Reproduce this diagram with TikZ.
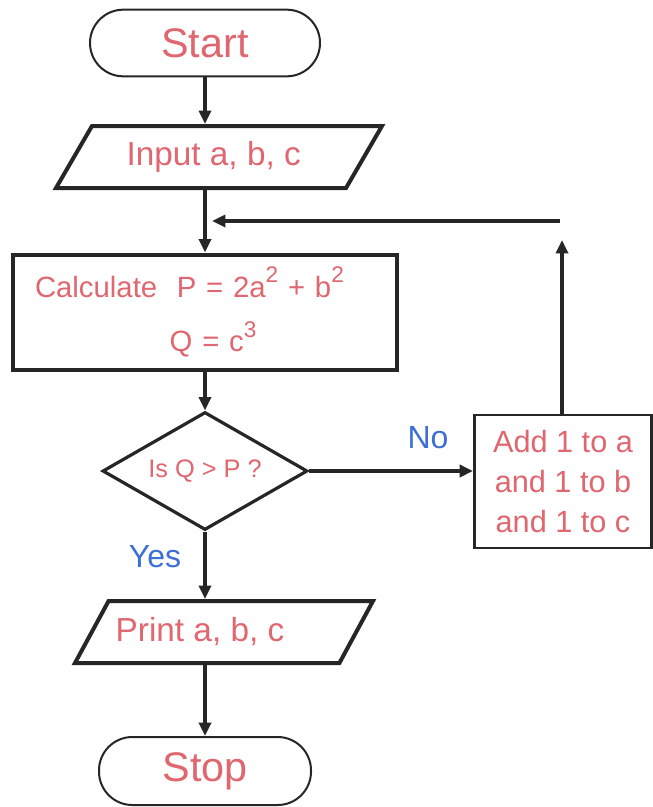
\documentclass[tikz,border=0pt]{standalone}
\usepackage{fontspec}
\setmainfont{Liberation Sans}
\usetikzlibrary{
    positioning,
    shapes.geometric,
    arrows.meta
}
\definecolor{RosaTexto}{HTML}{E0666F}
\definecolor{AzulRotulo}{HTML}{3D6FD6}
\definecolor{Traco}{HTML}{262626}
\newcommand{\powsup}[1]{\raisebox{0.5em}{\fontsize{17}{17}\selectfont #1}}

\tikzset{
    terminal/.style={draw=Traco, line width=1.5pt, rounded corners=25pt,
        text=RosaTexto, font=\fontsize{31}{31}\selectfont},
    iobox/.style={trapezium, trapezium left angle=48, trapezium right angle=132,
        trapezium stretches body, draw=Traco, line width=3pt,
        minimum height=46.5pt, text=RosaTexto, font=\fontsize{25}{25}\selectfont},
    procbox/.style={draw=Traco, line width=3pt, text=RosaTexto},
    decision/.style={diamond, aspect=1.74, inner sep=0pt, draw=Traco,
        line width=2.4pt, minimum width=153.75pt, minimum height=88.5pt,
        text=RosaTexto, font=\fontsize{19}{19}\selectfont},
    lbl/.style={text=AzulRotulo, font=\fontsize{24}{24}\selectfont},
    arr/.style={draw=Traco, line width=3pt, -{Triangle[length=10pt,width=9pt]}}
}

\begin{document}
\begin{tikzpicture}[x=0.75pt, y=-0.75pt]
    \useasboundingbox[fill=white] (0,0) rectangle (653,807);

    \node[terminal, minimum width=172.5pt, minimum height=50pt] (start) at (205,43) {Start};
    \node[iobox, minimum width=244.5pt] (input) at (219,157) {Input a, b, c\hspace*{8pt}};
    \node[procbox, minimum width=288pt, minimum height=86.25pt,
        text width=255pt, inner xsep=16.5pt, align=left,
        font=\fontsize{22}{41}\selectfont] (calc) at (205,312)
        {Calculate\ \ P = 2a\powsup{2} + b\powsup{2}\\
         \hspace*{101pt}Q = c\powsup{3}};
    \node[decision] (test) at (205,471) {Is Q > P ?};
    \node[procbox, line width=2.2pt, minimum width=132.75pt, minimum height=99.75pt,
        align=center, font=\fontsize{23}{30}\selectfont] (add) at (563,481.5)
        {Add 1 to a\\ and 1 to b\\ and 1 to c};
    \node[iobox, minimum width=223.5pt] (print) at (224,632) {Print a, b, c\hspace*{36pt}};
    \node[terminal, minimum width=159pt, minimum height=51pt] (stop) at (205,771) {Stop};

    \node[lbl] (nolbl) at (428,438) {No};
    \node[lbl] (yeslbl) at (155,557) {Yes};

    \coordinate (loopup) at (562,240);
    \coordinate (loopstart) at (560,221);
    \coordinate (loopend) at (212,221);

    \draw[arr] (start) -- (start |- input.north);
    \draw[arr] (start |- input.south) -- (calc);
    \draw[arr] (calc) -- (test);
    \draw[arr] (test.east) -- (test.east -| add.west);
    \draw[arr] (add.north -| loopup) -- (loopup);
    \draw[arr] (loopstart) -- (loopend);
    \draw[arr] (test) -- (test |- print.north);
    \draw[arr] (test |- print.south) -- (stop);
\end{tikzpicture}
\end{document}
